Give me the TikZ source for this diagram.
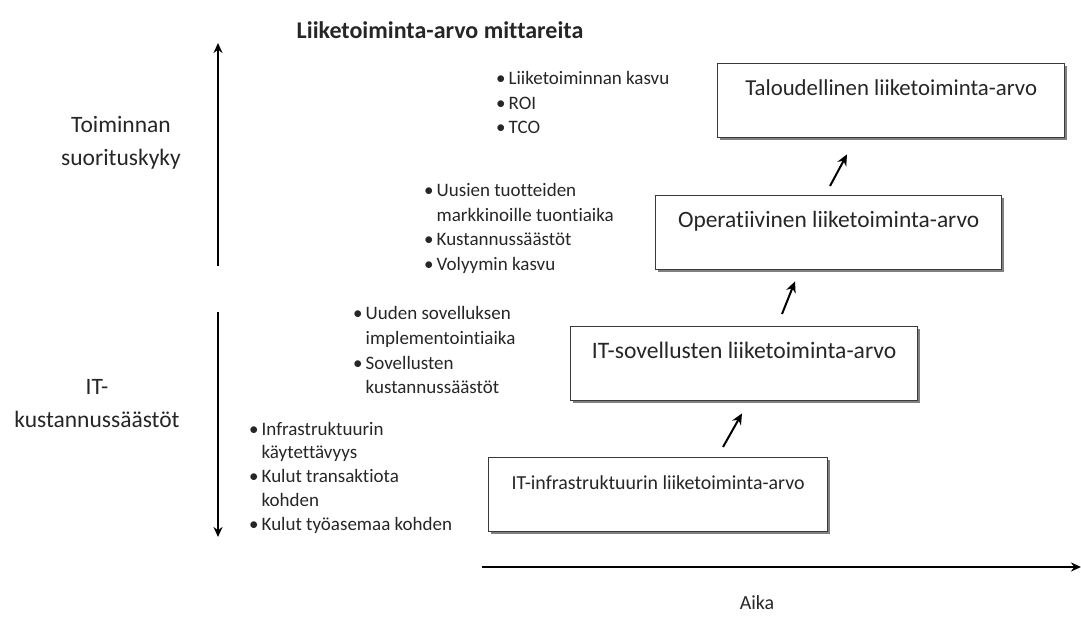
\documentclass[tikz,border=0pt]{standalone}
\usepackage{fontspec}
\setmainfont{Carlito}[Ligatures=NoCommon]
\usetikzlibrary{arrows.meta,shadows}
\definecolor{ink}{HTML}{262626}
\definecolor{frame}{HTML}{3A3A3A}
\begin{document}
\begin{tikzpicture}[x=1pt,y=-1pt,
  txt/.style={text=ink, inner sep=0pt},
  valuebox/.style={draw=frame, line width=1.4pt, fill=white, text=ink,
    inner xsep=0pt, inner ysep=0pt, text height=32pt, text depth=42pt,
    font=\fontsize{23.4}{28}\selectfont,
    drop shadow={shadow xshift=2.5pt, shadow yshift=-2.5pt, fill=black!50, opacity=1}},
  axislabel/.style={txt, align=center, font=\fontsize{23.5}{33}\selectfont},
  bulletlist/.style={txt, anchor=base west, font=\fontsize{19}{24.5}\selectfont},
  axis/.style={line width=1.8pt, draw=black, -{Stealth[length=10pt,width=9pt]}},
  steparrow/.style={line width=2pt, draw=black, -{Stealth[length=11pt,width=10pt]}}
]
\useasboundingbox (0,0) rectangle (1081,617);

% heading
\node[txt, font=\bfseries\fontsize{24}{28}\selectfont] (title) at (440,30) {Liiketoiminta-arvo mittareita};

% vertical axes
\coordinate (upfrom) at (218,266);
\coordinate (upto) at (218,43);
\coordinate (downfrom) at (218,312);
\coordinate (downto) at (218,537);
\draw[axis] (upfrom) -- (upto);
\draw[axis] (downfrom) -- (downto);

\node[axislabel] (perf) at (121,143) {Toiminnan\\suorituskyky};
\node[axislabel] (itcost) at (97,404) {IT-\\kustannussäästöt};

% time axis
\coordinate (tfrom) at (482,567);
\coordinate (tto) at (1081,567);
\draw[axis] (tfrom) -- (tto);
\node[txt, font=\fontsize{20}{24}\selectfont] (time) at (757,603) {Aika};

% value levels
\node[valuebox, minimum width=347pt, anchor=north west, font=\fontsize{22.8}{28}\selectfont] (talo) at (717,63) {Taloudellinen liiketoiminta-arvo};
\node[valuebox, minimum width=346pt, anchor=north west] (oper) at (655,195) {Operatiivinen liiketoiminta-arvo};
\node[valuebox, minimum width=347pt, anchor=north west, font=\fontsize{23.6}{28}\selectfont] (sov) at (570,326) {IT-sovellusten liiketoiminta-arvo};
\node[valuebox, minimum width=339pt, anchor=north west, font=\fontsize{19.9}{24}\selectfont] (infra) at (488,457) {IT-infrastruktuurin liiketoiminta-arvo};

% steps between levels
\draw[steparrow] ([xshift=235pt,yshift=10pt]infra.north west) -- ([xshift=172pt,yshift=-12pt]sov.south west);
\draw[steparrow] ([xshift=212pt,yshift=12pt]sov.north west) -- ([xshift=140pt,yshift=-11pt]oper.south west);
\draw[steparrow] ([xshift=175pt,yshift=9pt]oper.north west) -- ([xshift=130pt,yshift=-16pt]talo.south west);

% measures for each level
\node[bulletlist] (m1) at (496,85) {\begin{tabular}[t]{@{}l@{\hspace{3pt}}l@{}}
\textbullet & Liiketoiminnan kasvu\\
\textbullet & ROI\\
\textbullet & TCO
\end{tabular}};
\node[bulletlist] (m2) at (424,197) {\begin{tabular}[t]{@{}l@{\hspace{3pt}}l@{}}
\textbullet & Uusien tuotteiden\\
 & markkinoille tuontiaika\\
\textbullet & Kustannussäästöt\\
\textbullet & Volyymin kasvu
\end{tabular}};
\node[bulletlist] (m3) at (353,320) {\begin{tabular}[t]{@{}l@{\hspace{3pt}}l@{}}
\textbullet & Uuden sovelluksen\\
 & implementointiaika\\
\textbullet & Sovellusten\\
 & kustannussäästöt
\end{tabular}};
\node[bulletlist, font=\fontsize{19}{23.8}\selectfont] (m4) at (249,435) {\begin{tabular}[t]{@{}l@{\hspace{3pt}}l@{}}
\textbullet & Infrastruktuurin\\
 & käytettävyys\\
\textbullet & Kulut transaktiota\\
 & kohden\\
\textbullet & Kulut työasemaa kohden
\end{tabular}};
\end{tikzpicture}
\end{document}
